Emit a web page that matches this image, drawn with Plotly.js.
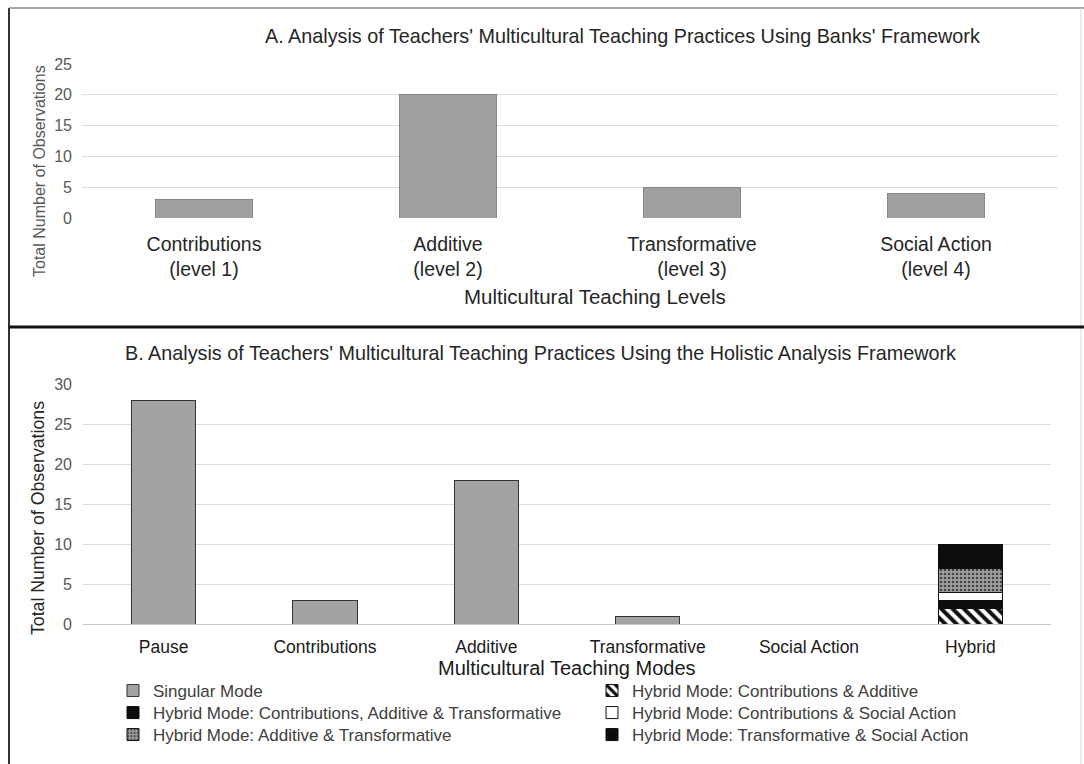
<!DOCTYPE html>
<html>
<head>
<meta charset="utf-8">
<script src="https://cdn.plot.ly/plotly-3.0.1.min.js"></script>
<style>
  html, body { margin: 0; padding: 0; background: #ffffff; }
  #chart { width: 1084px; height: 764px; }
</style>
</head>
<body>
<div id="chart"></div>
<script>
// ---------- Data ----------
const levelLabels = ["Contributions<br>(level 1)", "Additive<br>(level 2)", "Transformative<br>(level 3)", "Social Action<br>(level 4)"];
const levelCounts = [3, 20, 5, 4];

const modeLabels = ["Pause", "Contributions", "Additive", "Transformative", "Social Action", "Hybrid"];
const singularCounts = [28, 3, 18, 1, 0, 0];

const hybridCategory = ["Hybrid"];
const hybridContribAdditive = [2];
const hybridContribAdditiveTransform = [1];
const hybridContribSocial = [1];
const hybridAdditiveTransform = [3];
const hybridTransformSocial = [3];

const titleA = "A. Analysis of Teachers' Multicultural Teaching Practices Using Banks' Framework";
const titleB = "B. Analysis of Teachers' Multicultural Teaching Practices Using the Holistic Analysis Framework";
const yTitle = "Total Number of Observations";
const xTitleA = "Multicultural Teaching Levels";
const xTitleB = "Multicultural Teaching Modes";

// ---------- Helpers ----------
const W = 1084, H = 764;
const px = v => v / W;
const py = v => (H - v) / H;
const FONT = "Liberation Sans, Arial, sans-serif";

// ---------- Traces ----------
const traces = [
  {
    type: "bar", x: levelLabels, y: levelCounts, xaxis: "x", yaxis: "y",
    marker: { color: "#a0a0a0", line: { color: "#858585", width: 1 } },
    showlegend: false, hoverinfo: "x+y"
  },
  {
    type: "bar", name: "Singular Mode", x: modeLabels, y: singularCounts, xaxis: "x2", yaxis: "y2",
    marker: { color: "#a3a3a3", line: { color: "#333333", width: 1 } },
    legend: "legend"
  },
  {
    type: "bar", name: "Hybrid Mode: Contributions & Additive", x: hybridCategory, y: hybridContribAdditive,
    xaxis: "x2", yaxis: "y2",
    marker: { color: "#ffffff", line: { color: "#111111", width: 1 },
      pattern: { shape: "\\", fgcolor: "#111111", bgcolor: "#ffffff", size: 8, solidity: 0.5 } },
    legend: "legend"
  },
  {
    type: "bar", name: "Hybrid Mode: Contributions, Additive & Transformative", x: hybridCategory, y: hybridContribAdditiveTransform,
    xaxis: "x2", yaxis: "y2",
    marker: { color: "#0d0d0d", line: { color: "#0d0d0d", width: 1 } },
    legend: "legend2"
  },
  {
    type: "bar", name: "Hybrid Mode: Contributions & Social Action", x: hybridCategory, y: hybridContribSocial,
    xaxis: "x2", yaxis: "y2",
    marker: { color: "#ffffff", line: { color: "#111111", width: 1 } },
    legend: "legend2"
  },
  {
    type: "bar", name: "Hybrid Mode: Additive & Transformative", x: hybridCategory, y: hybridAdditiveTransform,
    xaxis: "x2", yaxis: "y2",
    marker: { color: "#9a9a9a", line: { color: "#111111", width: 1 },
      pattern: { shape: ".", fgcolor: "#444444", bgcolor: "#a0a0a0", size: 4, solidity: 0.35 } },
    legend: "legend3"
  },
  {
    type: "bar", name: "Hybrid Mode: Transformative & Social Action", x: hybridCategory, y: hybridTransformSocial,
    xaxis: "x2", yaxis: "y2",
    marker: { color: "#0d0d0d", line: { color: "#0d0d0d", width: 1 } },
    legend: "legend3"
  }
];

// ---------- Layout ----------
const legendBase = {
  orientation: "h", xanchor: "left", yanchor: "middle",
  x: px(113), entrywidthmode: "pixels", entrywidth: 434,
  font: { family: FONT, size: 17, color: "#404040" },
  bgcolor: "rgba(0,0,0,0)", traceorder: "normal", itemclick: false, itemdoubleclick: false
};

const axisFont = { family: FONT, size: 16, color: "#595959" };

const layout = {
  width: W, height: H,
  margin: { l: 0, r: 0, t: 0, b: 0 },
  paper_bgcolor: "#ffffff", plot_bgcolor: "#ffffff",
  font: { family: FONT, color: "#262626" },
  barmode: "stack", bargap: 0.6,
  showlegend: true,
  xaxis: {
    domain: [px(82), px(1058)], anchor: "y", type: "category",
    showgrid: false, showline: false, zeroline: false, ticks: "",
    tickfont: { family: FONT, size: 19.5, color: "#262626" }, ticklabelstandoff: 12
  },
  yaxis: {
    domain: [py(218), py(64)], anchor: "x", range: [0, 25], dtick: 5,
    showgrid: true, gridcolor: "#dcdcdc", gridwidth: 1, zeroline: false, showline: false, ticks: "",
    tickfont: axisFont, ticklabelstandoff: 9
  },
  xaxis2: {
    domain: [px(83), px(1051)], anchor: "y2", type: "category",
    showgrid: false, showline: false, zeroline: false, ticks: "",
    tickfont: { family: FONT, size: 17.5, color: "#1a1a1a" }, ticklabelstandoff: 10
  },
  yaxis2: {
    domain: [py(624), py(384)], anchor: "x2", range: [0, 30], dtick: 5,
    showgrid: true, gridcolor: "#dcdcdc", gridwidth: 1, zeroline: true, zerolinecolor: "#c8c8c8", zerolinewidth: 1,
    showline: false, ticks: "",
    tickfont: axisFont, ticklabelstandoff: 10
  },
  legend: Object.assign({}, legendBase, { y: py(691) }),
  legend2: Object.assign({}, legendBase, { y: py(713) }),
  legend3: Object.assign({}, legendBase, { y: py(735) }),
  annotations: [
    { text: titleA, xref: "paper", yref: "paper", x: px(622), y: py(36), xanchor: "center", yanchor: "middle",
      showarrow: false, font: { family: FONT, size: 19.8, color: "#262626" } },
    { text: yTitle, xref: "paper", yref: "paper", x: px(39), y: py(171), xanchor: "center", yanchor: "middle",
      textangle: -90, showarrow: false, font: { family: FONT, size: 16, color: "#595959" } },
    { text: xTitleA, xref: "paper", yref: "paper", x: px(595), y: py(296), xanchor: "center", yanchor: "middle",
      showarrow: false, font: { family: FONT, size: 20.5, color: "#262626" } },
    { text: titleB, xref: "paper", yref: "paper", x: px(540), y: py(353), xanchor: "center", yanchor: "middle",
      showarrow: false, font: { family: FONT, size: 19.8, color: "#262626" } },
    { text: yTitle, xref: "paper", yref: "paper", x: px(38), y: py(518), xanchor: "center", yanchor: "middle",
      textangle: -90, showarrow: false, font: { family: FONT, size: 17.7, color: "#262626" } },
    { text: xTitleB, xref: "paper", yref: "paper", x: px(567), y: py(668), xanchor: "center", yanchor: "middle",
      showarrow: false, font: { family: FONT, size: 20, color: "#1a1a1a" } }
  ],
  shapes: [
    // outer frame
    { type: "line", xref: "paper", yref: "paper", x0: px(9), x1: px(9), y0: 0, y1: py(8), line: { color: "#333333", width: 2 } },
    { type: "line", xref: "paper", yref: "paper", x0: px(9), x1: 1, y0: py(8), y1: py(8), line: { color: "#8a8a8a", width: 1.5 } },
    { type: "line", xref: "paper", yref: "paper", x0: px(1081), x1: px(1081), y0: 0, y1: py(8), line: { color: "#d8d8d8", width: 1 } },
    // separator between panels
    { type: "line", xref: "paper", yref: "paper", x0: px(9), x1: 1, y0: py(327), y1: py(327), line: { color: "#111111", width: 3 } }
  ]
};

Plotly.newPlot("chart", traces, layout, { staticPlot: true, displayModeBar: false });
</script>
</body>
</html>
